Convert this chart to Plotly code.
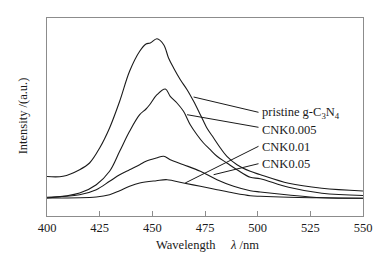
import plotly.graph_objects as go

# Data (wavelength nm, intensity a.u.)
wl_pristine = [400, 407.6, 415.5, 420.2, 425, 429.7, 434.5, 439.2, 444, 447, 449, 452.2, 455.4,
               457.7, 460.1, 463.3, 466.5, 469.6, 472.8, 475.9, 479.1, 482.3, 485.4, 490.2,
               496.5, 501, 514.7, 530.5, 550]
int_pristine = [39.5, 39.7, 46.3, 53, 68, 88, 114.7, 144.7, 164.7, 172, 173, 177.3, 171.3,
                158, 148, 136.3, 126.3, 114.7, 101.3, 88, 78, 68, 59.7, 51.3,
                44.7, 41.5, 32.7, 27.7, 25]

wl_005 = [400, 415.5, 423.4, 429.7, 434.5, 439.2, 444, 447, 449, 452.2, 456.2, 458.5, 461.7,
          464.8, 468, 471.2, 474.3, 477.5, 480.7, 485.4, 490.2, 496.5, 501.2, 514.7, 530.5, 550]
int_005 = [18, 23, 31.3, 44.7, 64.7, 84.7, 101.3, 107, 112, 121.3, 127, 119.7, 113,
           104.7, 91.3, 81.3, 73, 66.3, 59.7, 53, 46.3, 38.7, 37.3, 28.7, 22.7, 20.5]

wl_01 = [400, 415.5, 423.4, 429.7, 434.5, 439.2, 444, 447, 451.9, 455.4, 458.5, 464.8, 472.8,
         480.7, 488.6, 496.5, 501.2, 514.7, 530.5, 550]
int_01 = [18.7, 21.3, 26.3, 34.7, 41.3, 46.3, 51.3, 54.7, 58, 59.7, 56.3, 51.3, 44.7,
          36.3, 29.7, 25.3, 24, 21, 18.3, 17.7]

wl_05 = [400, 423.4, 429.7, 434.5, 439.2, 444, 451.9, 457, 464.8, 472.8, 480.7, 488.6, 496.5,
         501.2, 514.7, 530.5, 550]
int_05 = [18, 19, 21.3, 25.3, 29.7, 33, 35.3, 36.3, 33, 29.7, 26.3, 23, 20.3,
          19.7, 18.7, 18.2, 17.7]

labels = ["pristine g-C<sub>3</sub>N<sub>4</sub>", "CNK0.005", "CNK0.01", "CNK0.05"]
label_y = [102.7, 86, 69.3, 51.7]
leader_start_x = [469.6, 466.5, 465.6, 479.1]
leader_start_y = [119, 101.3, 33, 41.3]
leader_end_x = 500.4
leader_end_y = [103.7, 88.7, 69.7, 52.3]

x_ticks = [400, 425, 450, 475, 500, 525, 550]

FONT = "Liberation Serif, Times New Roman, serif"
LINE = "#1a1a1a"
FRAME = "#8c8c8c"

fig = go.Figure()
for wl, it in [(wl_pristine, int_pristine), (wl_005, int_005), (wl_01, int_01), (wl_05, int_05)]:
    fig.add_trace(go.Scatter(x=wl, y=it, mode="lines", line=dict(color=LINE, width=1.1),
                             line_shape="spline", showlegend=False, hoverinfo="skip"))

for i, lab in enumerate(labels):
    fig.add_shape(type="line", xref="x", yref="y",
                  x0=leader_start_x[i], y0=leader_start_y[i], x1=leader_end_x, y1=leader_end_y[i],
                  line=dict(color=LINE, width=1))
    fig.add_annotation(x=leader_end_x, y=label_y[i], xref="x", yref="y", text=lab,
                       showarrow=False, xanchor="left", yanchor="middle", xshift=1,
                       font=dict(family=FONT, size=12.5, color="#1a1a1a"))

fig.add_annotation(x=0.509, y=-0.146, xref="paper", yref="paper",
                   text="Wavelength&nbsp;&nbsp;&nbsp;&nbsp;&nbsp;<i>λ</i> /nm",
                   showarrow=False, xanchor="center", yanchor="middle",
                   font=dict(family=FONT, size=12.5, color="#1a1a1a"))
fig.add_annotation(x=-0.075, y=0.505, xref="paper", yref="paper",
                   text="Intensity /(a.u.)", textangle=-90,
                   showarrow=False, xanchor="center", yanchor="middle",
                   font=dict(family=FONT, size=12.5, color="#1a1a1a"))

fig.update_layout(
    width=388, height=263,
    margin=dict(l=47, r=25, t=18, b=47),
    paper_bgcolor="white", plot_bgcolor="white",
    font=dict(family=FONT, size=12, color="#1a1a1a"),
    xaxis=dict(range=[400, 550], tickvals=x_ticks, ticktext=[str(t) for t in x_ticks],
               ticks="inside", ticklen=5, tickcolor=FRAME, tickwidth=1,
               showline=True, linecolor=FRAME, linewidth=1, mirror=True,
               showgrid=False, zeroline=False, tickfont=dict(family=FONT, size=12.5)),
    yaxis=dict(range=[0, 198], showticklabels=False, ticks="",
               showline=True, linecolor=FRAME, linewidth=1, mirror=True,
               showgrid=False, zeroline=False),
)

fig.write_html("out.html", config={"displayModeBar": False},
               post_script="document.body.style.margin='0';document.body.style.overflow='hidden';")
